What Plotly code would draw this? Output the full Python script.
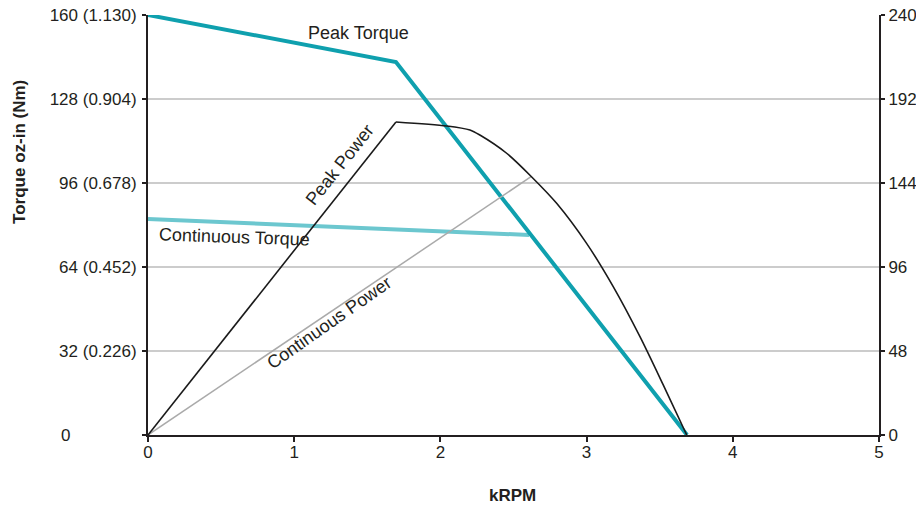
import plotly.graph_objects as go

# Data
peak_torque_x = [0.0, 1.696, 3.687]
peak_torque_y = [160.0, 142.1, 0.0]

cont_torque_x = [0.0, 2.606]
cont_torque_y = [82.3, 76.2]

peak_power_x = [0.0, 1.696, 2.043, 2.202, 2.27, 2.453, 2.623, 2.795, 3.0, 3.182, 3.365, 3.525, 3.685]
peak_power_y = [0.0, 178.9, 176.6, 174.3, 171.4, 161.0, 147.6, 132.4, 109.5, 84.8, 56.2, 28.5, 0.0]

cont_power_x = [0.0, 2.62]
cont_power_y = [0.0, 147.6]

torque_ticks = [0, 32, 64, 96, 128, 160]
torque_labels = ["0" + "\u00a0" * 14, "32 (0.226)", "64 (0.452)", "96 (0.678)", "128 (0.904)", "160 (1.130)"]
power_ticks = [0, 48, 96, 144, 192, 240]
x_ticks = [0, 1, 2, 3, 4, 5]

FONT = "Liberation Sans, Arial, sans-serif"
TXT = "#231f20"

fig = go.Figure()
fig.add_trace(go.Scatter(x=cont_power_x, y=cont_power_y, mode="lines", yaxis="y2",
                         line=dict(color="#aaaaaa", width=1.5), showlegend=False))
# rising straight part of peak power
fig.add_trace(go.Scatter(x=peak_power_x[:2], y=peak_power_y[:2], mode="lines", yaxis="y2",
                         line=dict(color="#1a1a1a", width=1.6), showlegend=False))
# falling curved part of peak power
fig.add_trace(go.Scatter(x=peak_power_x[1:], y=peak_power_y[1:], mode="lines", yaxis="y2",
                         line=dict(color="#1a1a1a", width=1.6, shape="spline", smoothing=0.8),
                         showlegend=False))
fig.add_trace(go.Scatter(x=cont_torque_x, y=cont_torque_y, mode="lines",
                         line=dict(color="#6cc7cf", width=4), showlegend=False))
fig.add_trace(go.Scatter(x=peak_torque_x, y=peak_torque_y, mode="lines",
                         line=dict(color="#0fa0ae", width=4), showlegend=False))

ann_font = dict(family=FONT, size=18, color=TXT)
fig.add_annotation(x=1.44, y=153.0, text="Peak Torque", showarrow=False, font=ann_font)
fig.add_annotation(x=0.595, y=75.5, text="Continuous Torque", showarrow=False, font=ann_font, textangle=2)
fig.add_annotation(x=1.31, y=103.0, text="Peak Power", showarrow=False, font=ann_font, textangle=-51.6)
fig.add_annotation(x=1.238, y=42.5, text="Continuous Power", showarrow=False, font=ann_font, textangle=-35)

# axis titles
fig.add_annotation(xref="paper", yref="paper", x=-0.1751, y=0.674, text="<b>Torque oz-in (Nm)</b>",
                   xanchor="center", yanchor="middle",
                   showarrow=False, textangle=-90, font=dict(family=FONT, size=17, color=TXT))
fig.add_annotation(xref="paper", yref="paper", x=0.4993, y=-0.143, text="<b>kRPM</b>",
                   xanchor="center", yanchor="middle",
                   showarrow=False, font=dict(family=FONT, size=17, color=TXT))

fig.update_layout(
    width=916, height=513,
    margin=dict(l=148, r=37, t=15, b=78, autoexpand=False),
    paper_bgcolor="white", plot_bgcolor="white",
    font=dict(family=FONT, size=17, color=TXT),
    xaxis=dict(range=[0, 5], tickvals=x_ticks, showgrid=False, zeroline=False, automargin=False,
               showline=True, linecolor=TXT, linewidth=2,
               ticks="outside", ticklen=5, tickwidth=1.5, tickcolor=TXT,
               ticklabelstandoff=-4, tickfont=dict(size=17)),
    yaxis=dict(range=[0, 160], tickvals=torque_ticks, ticktext=torque_labels, automargin=False,
               showgrid=True, gridcolor="#cccccc", gridwidth=1.8, zeroline=False,
               showline=True, linecolor=TXT, linewidth=2,
               ticks="outside", ticklen=4, tickwidth=1.5, tickcolor=TXT,
               ticklabelstandoff=2, tickfont=dict(size=17)),
    yaxis2=dict(range=[0, 240], tickvals=power_ticks, overlaying="y", side="right", automargin=False,
                showgrid=False, zeroline=False,
                showline=True, linecolor=TXT, linewidth=2,
                ticks="outside", ticklen=4, tickwidth=1.5, tickcolor=TXT,
                ticklabelstandoff=0, tickfont=dict(size=17)),
)

post = ("document.body.style.margin='0px';"
        "document.body.style.overflow='hidden';"
        "document.documentElement.style.overflow='hidden';")
fig.write_html("out.html", post_script=post, config={"displayModeBar": False})
